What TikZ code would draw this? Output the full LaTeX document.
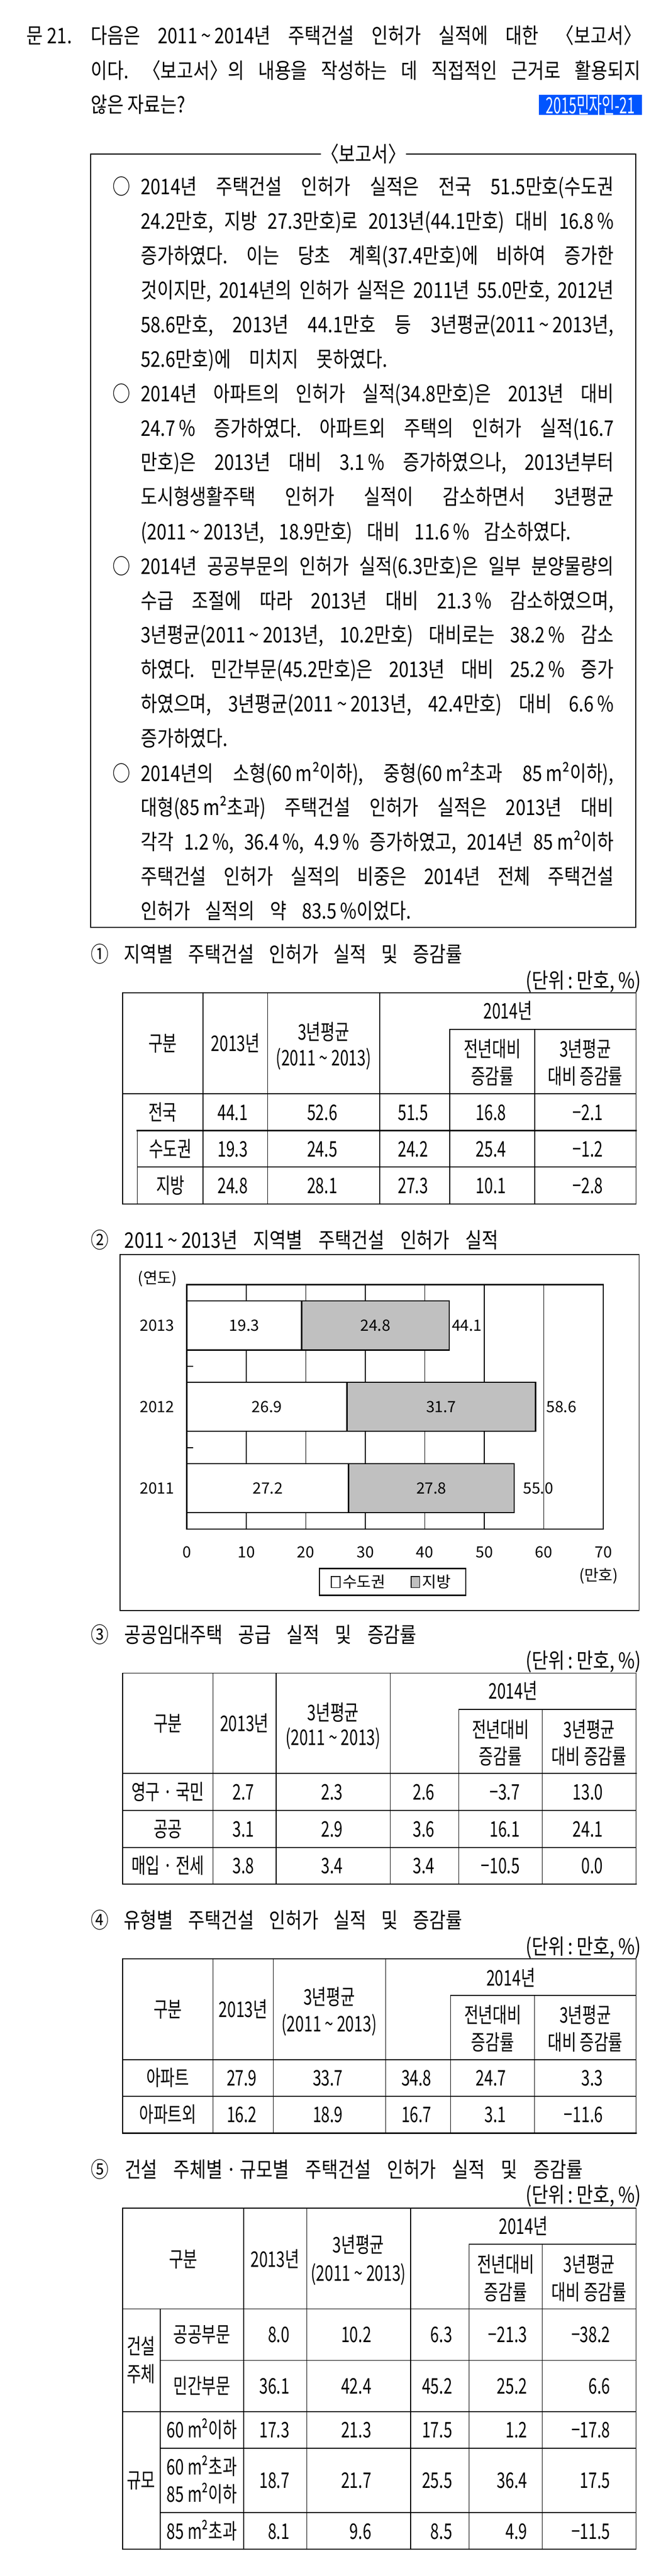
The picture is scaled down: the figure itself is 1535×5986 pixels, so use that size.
\documentclass[tikz,border=0pt]{standalone}
\usepackage{fontspec}
\setmainfont{Noto Sans CJK KR}[FakeStretch=0.83]
\newfontfamily\tabfont{Noto Sans CJK KR}[FakeStretch=0.72]
\newfontfamily\chartfont{Noto Sans CJK KR}
\newfontfamily\tagfont{Noto Sans CJK KR}[FakeStretch=0.62]
\definecolor{tagblue}{RGB}{0,85,255}
\definecolor{bargray}{RGB}{192,192,192}
\newcommand\bodysize{\fontsize{50}{58}\selectfont}
\newcommand\wave{\,\textasciitilde\,}
\tikzset{
  txtline/.style={inner sep=0pt, anchor=west, font=\bodysize, text height=40pt, text depth=4pt},
  cell/.style={inner sep=0pt, font=\tabfont\bodysize, text height=40pt, text depth=4pt},
  num/.style={cell, anchor=east},
  rule/.style={line width=2pt, line cap=rect},
  heavy/.style={line width=3pt, line cap=rect},
  chart/.style={inner sep=0pt, font=\chartfont\fontsize{36}{40}\selectfont, text height=26pt, text depth=0pt},
}
\newcommand\jline[3]{\node[txtline] (#1) at (327,#2) {\makebox[1099pt][s]{#3}};}
\frenchspacing

\begin{document}
\begin{tikzpicture}[x=1pt, y=-1pt]
		%%%%% START %%%%%
		\useasboundingbox (0,0) rectangle (1535,5986);
		
		\node[txtline] (qno) at (62,83) {문 21.};
		\node[txtline] (q1) at (211,83) {\makebox[1279pt][s]{다음은 2011\wave 2014년 주택건설 인허가 실적에 대한 〈보고서〉}};
		\node[txtline] (q2) at (211,164) {\makebox[1277pt][s]{이다. 〈보고서〉의 내용을 작성하는 데 직접적인 근거로 활용되지}};
		\node[txtline] (q3) at (211,243) {않은 자료는?};
		\node[fill=tagblue, text=white, font=\tagfont\fontsize{52}{52}\selectfont, minimum width=240pt, minimum height=42pt, inner sep=0pt] (tag) at (1372,244) {2015민자인-21};
		
		\draw[rule] (211,358) rectangle (1477,2155);
		\node[fill=white, inner xsep=0pt, inner ysep=4pt, font=\bodysize, text height=40pt, text depth=4pt] (rtitle) at (845,358) {〈보고서〉};
		\foreach \y [count=\i] in {434,915,1316,1797} \node[txtline, anchor=center] (bul\i) at (282,\y) {○};
		
		\jline{r1}{434}{2014년 주택건설 인허가 실적은 전국 51.5만호(수도권}
		\jline{r2}{514}{24.2만호, 지방 27.3만호)로 2013년(44.1만호) 대비 16.8\,\%}
		\jline{r3}{594}{증가하였다. 이는 당초 계획(37.4만호)에 비하여 증가한}
		\jline{r4}{674}{것이지만, 2014년의 인허가 실적은 2011년 55.0만호, 2012년}
		\jline{r5}{755}{58.6만호, 2013년 44.1만호 등 3년평균(2011\wave 2013년,}
		\node[txtline] (r6) at (327,835) {\makebox[573pt][s]{52.6만호)에 미치지 못하였다.}};
		\jline{r7}{915}{2014년 아파트의 인허가 실적(34.8만호)은 2013년 대비}
		\jline{r8}{995}{24.7\,\% 증가하였다. 아파트외 주택의 인허가 실적(16.7}
		\jline{r9}{1075}{만호)은 2013년 대비 3.1\,\% 증가하였으나, 2013년부터}
		\jline{r10}{1155}{도시형생활주택 인허가 실적이 감소하면서 3년평균}
		\node[txtline] (r11) at (327,1236) {\makebox[1000pt][s]{(2011\wave 2013년, 18.9만호) 대비 11.6\,\% 감소하였다.}};
		\jline{r12}{1316}{2014년 공공부문의 인허가 실적(6.3만호)은 일부 분양물량의}
		\jline{r13}{1396}{수급 조절에 따라 2013년 대비 21.3\,\% 감소하였으며,}
		\jline{r14}{1476}{3년평균(2011\wave 2013년, 10.2만호) 대비로는 38.2\,\% 감소}
		\jline{r15}{1556}{하였다. 민간부문(45.2만호)은 2013년 대비 25.2\,\% 증가}
		\jline{r16}{1636}{하였으며, 3년평균(2011\wave 2013년, 42.4만호) 대비 6.6\,\%}
		\node[txtline] (r17) at (327,1716) {증가하였다.};
		\jline{r18}{1797}{2014년의 소형(60\,m²이하), 중형(60\,m²초과 85\,m²이하),}
		\jline{r19}{1877}{대형(85\,m²초과) 주택건설 인허가 실적은 2013년 대비}
		\jline{r20}{1957}{각각 1.2\,\%, 36.4\,\%, 4.9\,\% 증가하였고, 2014년 85\,m²이하}
		\jline{r21}{2037}{주택건설 인허가 실적의 비중은 2014년 전체 주택건설}
		\node[txtline] (r22) at (327,2117) {\makebox[628pt][s]{인허가 실적의 약 83.5\,\%이었다.}};
		
		\node[txtline] (h1) at (211,2218) {\makebox[863pt][s]{① 지역별 주택건설 인허가 실적 및 증감률}};
		\node[txtline] (h2) at (211,2882) {\makebox[947pt][s]{② 2011\wave 2013년 지역별 주택건설 인허가 실적}};
		\node[txtline] (h3) at (211,3799) {\makebox[757pt][s]{③ 공공임대주택 공급 실적 및 증감률}};
		\node[txtline] (h4) at (211,4462) {\makebox[863pt][s]{④ 유형별 주택건설 인허가 실적 및 증감률}};
		\node[txtline] (h5) at (211,5042) {\makebox[1143pt][s]{⑤ 건설 주체별\,·\,규모별 주택건설 인허가 실적 및 증감률}};
		\foreach \y [count=\i] in {2279,3859,4523,5101} \node[txtline, anchor=east] (unit\i) at (1490,\y) {(단위\,:\,만호, \%)};
		
		% table 1
		\foreach \x in {285,472,622,882,1478} \draw[rule] (\x,2307) -- (\x,2798);
		\foreach \x in {1045,1243} \draw[rule] (\x,2392) -- (\x,2798);
		\draw[rule] (319,2627) -- (319,2798);
		\foreach \y in {2307,2542,2798} \draw[rule] (285,\y) -- (1478,\y);
		\draw[rule] (1045,2392) -- (1478,2392);
		\draw[heavy] (319,2627) -- (1478,2627);
		\draw[rule] (319,2712) -- (1478,2712);
		\node[cell] (t1-gubun) at (378,2425) {구분};
		\node[cell] (t1-y13) at (547,2425) {2013년};
		\node[cell] (t1-avg) at (752,2398) {3년평균};
		\node[cell] (t1-avgyr) at (752,2458) {(2011\wave 2013)};
		\node[cell] (t1-y14) at (1180,2350) {2014년};
		\node[cell] (t1-yoy) at (1144,2438) {전년대비};
		\node[cell] (t1-yoy2) at (1144,2502) {증감률};
		\node[cell] (t1-vs) at (1360,2438) {3년평균};
		\node[cell] (t1-vs2) at (1360,2502) {대비 증감률};
		\foreach \y/\lab/\lx/\a/\b/\c/\d/\e [count=\i] in {2585/전국/378/44.1/52.6/51.5/16.8/−2.1, 2670/수도권/396/19.3/24.5/24.2/25.4/−1.2, 2755/지방/396/24.8/28.1/27.3/10.1/−2.8}{
			\node[cell] (t1-l\i) at (\lx,\y) {\lab};
			\node[num] (t1-a\i) at (576,\y) {\a};
			\node[num] (t1-b\i) at (784,\y) {\b};
			\node[num] (t1-c\i) at (995,\y) {\c};
			\node[num] (t1-d\i) at (1176,\y) {\d};
			\node[num] (t1-e\i) at (1401,\y) {\e};
		}
		
		% chart
		\draw[rule] (279,2915) rectangle (1485,3742);
		\foreach \v in {10,20,...,60} \draw[line width=1.5pt] ({434+\v*13.83},2985) -- ({434+\v*13.83},3553);
		\draw[line width=1.5pt] (1402,2985) -- (1402,3553);
		\draw[heavy] (434,2985) -- (1402,2985);
		\draw[heavy] (434,2985) -- (434,3553) -- (1402,3553);
		\foreach \y in {3175,3364} \draw[rule] (434,\y) -- (448,\y);
		\foreach \y/\a/\b/\t/\g/\yr in {3023/19.3/24.8/44.1/6/2013, 3212/26.9/31.7/58.6/25/2012, 3401/27.2/27.8/55.0/21/2011}{
			\draw[heavy, fill=white] (434,\y) rectangle ({434+\a*13.83},\y+114);
			\draw[heavy, fill=bargray] ({434+\a*13.83},\y) rectangle ({434+(\a+\b)*13.83},\y+114);
			\node[chart] (cap\yr) at ({434+\a*13.83/2},\y+57) {\a};
			\node[chart] (loc\yr) at ({434+(\a+\b/2)*13.83},\y+57) {\b};
			\node[chart, anchor=west] (tot\yr) at ({434+(\a+\b)*13.83+\g},\y+57) {\t};
			\node[chart, anchor=east] (yr\yr) at (405,\y+57) {\yr};
		}
		\foreach \v in {0,10,...,70} \node[chart] (ax\v) at ({434+\v*13.83},3607) {\v};
		\node[chart] (yunit) at (366,2970) {(연도)};
		\node[chart] (xunit) at (1391,3661) {(만호)};
		\draw[heavy] (742,3645) rectangle (1082,3707);
		\draw[line width=2pt, fill=white] (770,3663) rectangle (790,3689);
		\draw[line width=2pt, fill=bargray] (955,3663) rectangle (975,3689);
		\node[chart, anchor=west] (leg1) at (796,3676) {수도권};
		\node[chart, anchor=west] (leg2) at (981,3676) {지방};
		
		% table 3
		\foreach \x in {285,495,642,907,1478} \draw[rule] (\x,3888) -- (\x,4378);
		\foreach \x in {1066,1260} \draw[rule] (\x,3972) -- (\x,4378);
		\foreach \y in {3888,4207,4293} \draw[rule] (285,\y) -- (1478,\y);
		\draw[heavy] (285,4121) -- (1478,4121);
		\draw[heavy] (285,4378) -- (1478,4378);
		\draw[rule] (1066,3972) -- (1478,3972);
		\node[cell] (t3-gubun) at (390,4005) {구분};
		\node[cell] (t3-y13) at (568,4005) {2013년};
		\node[cell] (t3-avg) at (774,3980) {3년평균};
		\node[cell] (t3-avgyr) at (774,4038) {(2011\wave 2013)};
		\node[cell] (t3-y14) at (1192,3930) {2014년};
		\node[cell] (t3-yoy) at (1163,4020) {전년대비};
		\node[cell] (t3-yoy2) at (1163,4082) {증감률};
		\node[cell] (t3-vs) at (1369,4020) {3년평균};
		\node[cell] (t3-vs2) at (1369,4082) {대비 증감률};
		\foreach \y/\lab/\a/\b/\c/\d/\e [count=\i] in {4164/영구\,·\,국민/2.7/2.3/2.6/−3.7/13.0, 4250/공공/3.1/2.9/3.6/16.1/24.1, 4336/매입\,·\,전세/3.8/3.4/3.4/−10.5/0.0}{
			\node[cell] (t3-l\i) at (390,\y) {\lab};
			\node[num] (t3-a\i) at (591,\y) {\a};
			\node[num] (t3-b\i) at (797,\y) {\b};
			\node[num] (t3-c\i) at (1010,\y) {\c};
			\node[num] (t3-d\i) at (1208,\y) {\d};
			\node[num] (t3-e\i) at (1401,\y) {\e};
		}
		
		% table 4
		\foreach \x in {285,495,635,896,1478} \draw[rule] (\x,4552) -- (\x,4957);
		\foreach \x in {1047,1242} \draw[rule] (\x,4637) -- (\x,4957);
		\foreach \y in {4552,4786,4871} \draw[rule] (285,\y) -- (1478,\y);
		\draw[heavy] (285,4957) -- (1478,4957);
		\draw[rule] (1047,4637) -- (1478,4637);
		\node[cell] (t4-gubun) at (390,4670) {구분};
		\node[cell] (t4-y13) at (565,4670) {2013년};
		\node[cell] (t4-avg) at (765,4641) {3년평균};
		\node[cell] (t4-avgyr) at (765,4703) {(2011\wave 2013)};
		\node[cell] (t4-y14) at (1187,4596) {2014년};
		\node[cell] (t4-yoy) at (1145,4683) {전년대비};
		\node[cell] (t4-yoy2) at (1145,4746) {증감률};
		\node[cell] (t4-vs) at (1360,4683) {3년평균};
		\node[cell] (t4-vs2) at (1360,4746) {대비 증감률};
		\foreach \y/\lab/\a/\b/\c/\d/\e [count=\i] in {4829/아파트/27.9/33.7/34.8/24.7/3.3, 4914/아파트외/16.2/18.9/16.7/3.1/−11.6}{
			\node[cell] (t4-l\i) at (390,\y) {\lab};
			\node[num] (t4-a\i) at (597,\y) {\a};
			\node[num] (t4-b\i) at (797,\y) {\b};
			\node[num] (t4-c\i) at (1003,\y) {\c};
			\node[num] (t4-d\i) at (1176,\y) {\d};
			\node[num] (t4-e\i) at (1401,\y) {\e};
		}
		
		% table 5
		\foreach \x in {285,566,713,954,1478} \draw[rule] (\x,5131) -- (\x,5924);
		\foreach \x in {1090,1260} \draw[rule] (\x,5215) -- (\x,5924);
		\draw[rule] (372,5365) -- (372,5924);
		\foreach \y in {5131,5365,5604,5924} \draw[rule] (285,\y) -- (1478,\y);
		\foreach \y in {5485,5689,5839} \draw[rule] (372,\y) -- (1478,\y);
		\draw[rule] (1090,5215) -- (1478,5215);
		\node[cell] (t5-gubun) at (426,5250) {구분};
		\node[cell] (t5-y13) at (639,5250) {2013년};
		\node[cell] (t5-avg) at (833,5217) {3년평균};
		\node[cell] (t5-avgyr) at (833,5283) {(2011\wave 2013)};
		\node[cell] (t5-y14) at (1216,5173) {2014년};
		\node[cell] (t5-yoy) at (1175,5262) {전년대비};
		\node[cell] (t5-yoy2) at (1175,5327) {증감률};
		\node[cell] (t5-vs) at (1369,5262) {3년평균};
		\node[cell] (t5-vs2) at (1369,5327) {대비 증감률};
		\node[cell] (t5-g1) at (328,5453) {건설};
		\node[cell] (t5-g1b) at (328,5517) {주체};
		\node[cell] (t5-g2) at (328,5764) {규모};
		\node[cell] (t5-l1) at (469,5425) {공공부문};
		\node[cell] (t5-l2) at (469,5545) {민간부문};
		\node[cell] (t5-l3) at (469,5647) {60\,m²이하};
		\node[cell] (t5-l4) at (469,5733) {60\,m²초과};
		\node[cell] (t5-l4b) at (469,5796) {85\,m²이하};
		\node[cell] (t5-l5) at (469,5882) {85\,m²초과};
		\foreach \y/\a/\b/\c/\d/\e [count=\i] in {5425/8.0/10.2/6.3/−21.3/−38.2, 5545/36.1/42.4/45.2/25.2/6.6, 5647/17.3/21.3/17.5/1.2/−17.8, 5764/18.7/21.7/25.5/36.4/17.5, 5882/8.1/9.6/8.5/4.9/−11.5}{
			\node[num] (t5-a\i) at (673,\y) {\a};
			\node[num] (t5-b\i) at (863,\y) {\b};
			\node[num] (t5-c\i) at (1051,\y) {\c};
			\node[num] (t5-d\i) at (1225,\y) {\d};
			\node[num] (t5-e\i) at (1418,\y) {\e};
		}
		
		%%%%% END %%%%%
	\end{tikzpicture}
\end{document}
